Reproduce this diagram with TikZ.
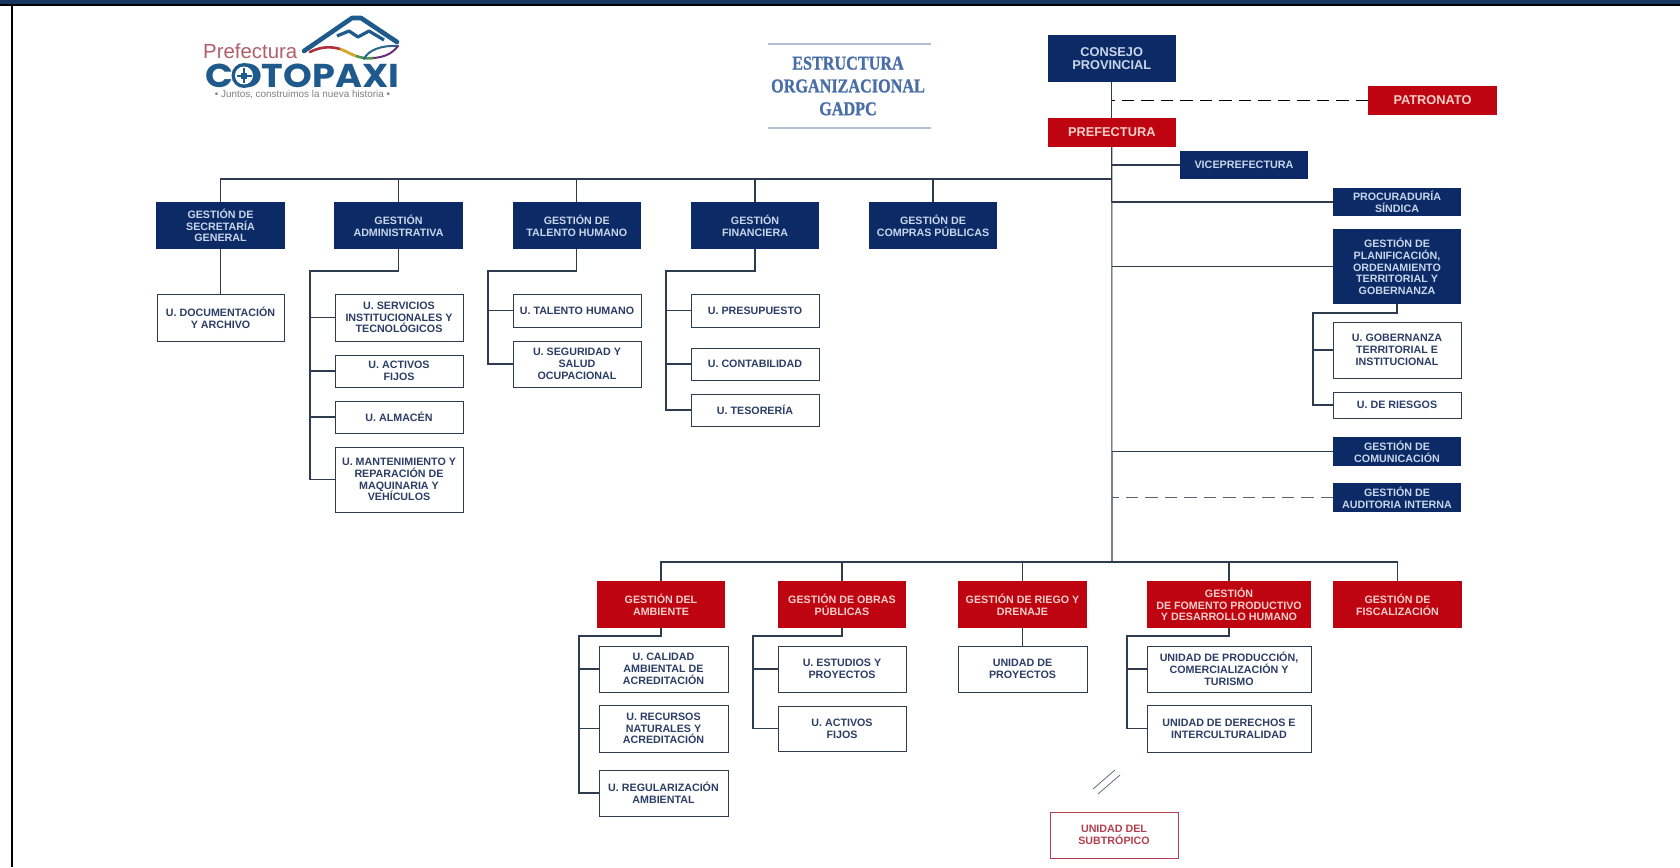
\documentclass[tikz,border=0pt]{standalone}
\usepackage{fontspec}
\setmainfont{Liberation Sans}
\newfontfamily\titlefont[BoldFeatures={FakeBold=1.2}]{Liberation Serif}
\newfontfamily\logofont{Poppins}
\definecolor{navy}{HTML}{0B2A66}
\definecolor{crimson}{HTML}{BF0411}
\definecolor{navytext}{HTML}{C9D6EA}
\definecolor{redtext}{HTML}{F6CFC8}
\definecolor{unittext}{HTML}{2C3E66}
\definecolor{linecol}{HTML}{2E3C50}
\definecolor{logoblue}{HTML}{1F5A8C}
\definecolor{logored}{HTML}{B0606A}
\definecolor{titleblue}{HTML}{4A6FA8}
\definecolor{rulecol}{HTML}{B4BFD3}
\definecolor{subred}{HTML}{B33F4C}
\definecolor{topbar}{HTML}{17375E}
\definecolor{waveR}{HTML}{B0303C}
\definecolor{waveY}{HTML}{D6A52B}
\definecolor{waveG}{HTML}{509646}
\definecolor{waveB}{HTML}{28648C}
\definecolor{waveP}{HTML}{6B2E7F}
\tikzset{
  x=1pt,y=-1pt,
  basebox/.style={inner sep=0pt,outer sep=0pt,align=center,line width=1pt,font=\bfseries\fontsize{10.7}{11.7}\selectfont},
  navybox/.style={basebox,fill=navy,text=navytext},
  redbox/.style={basebox,fill=crimson,text=redtext},
  unitbox/.style={basebox,fill=white,draw=linecol,text=unittext},
  subbox/.style={basebox,fill=white,draw=subred,text=subred},
  bigtext/.style={font=\bfseries\fontsize{12.8}{13.8}\selectfont},
  midtext/.style={font=\bfseries\fontsize{10.8}{11.7}\selectfont},
  conn/.style={draw=linecol,line width=1.1pt},
  dashconn/.style={draw=black,line width=1.3pt,dash pattern=on 12.5pt off 7pt},
  rulerline/.style={draw=rulecol,line width=1.4pt},
  titletext/.style={align=center,text=titleblue,xscale=.83,transform shape,inner sep=0pt,
    font=\titlefont\bfseries\fontsize{19.5}{22}\selectfont},
}
\newcommand{\bx}[7]{\node[#6,minimum width={(#4-#2)*1pt},minimum height={(#5-#3)*1pt}] (#1) at ({(#2+#4)/2},{(#3+#5)/2}) {#7};}
\begin{document}
\begin{tikzpicture}
\useasboundingbox (0,0) rectangle (1680,867);
\fill[white] (0,0) rectangle (1680,867);
% frame
\fill[black] (0,4) rectangle (1680,6);
\fill[topbar] (0,0) rectangle (1680,4);
\fill[black] (11,6) rectangle (13,867);
% logo
\begin{scope}
\draw[logoblue,line width=4.6pt,line join=round,line cap=round] (304,51) -- (352,18) -- (361,18) -- (397,42);
\draw[logoblue,line width=3.2pt,line join=round] (337,36) -- (349,31) -- (358,37) -- (369,31) -- (384,40);
\draw[waveR,line width=2.6pt,line cap=round] (310,52) .. controls (320,47) and (330,46) .. (340,49);
\draw[waveY,line width=2.8pt] (340,49) .. controls (346,51) and (350,54) .. (356,56);
\draw[waveG,line width=2.6pt] (356,56) .. controls (362,58) and (368,59) .. (374,58);
\draw[waveB,line width=2pt,line cap=round] (364,59) .. controls (368,50) and (382,45) .. (398,46);
\draw[waveP,line width=2pt,line cap=round] (374,58) .. controls (384,57) and (392,54) .. (398,46);
\node[inner sep=0pt,anchor=base west,text=logored,font=\fontsize{20.4}{22}\selectfont] (logoA) at (203,59) {Prefectura};
\node[inner sep=0pt,anchor=north west,text=logoblue] (logoB) at (205,63.5) {\resizebox{194pt}{23.5pt}{\logofont\bfseries COTOPAXI}};
\fill[logoblue] (244,75.5) circle (12.5);
\fill[white] (244,75.5) circle (9);
\fill[logoblue] (241,72.5) rectangle (247,78.5);
\fill[logoblue] (243,68) rectangle (245,83);
\fill[logoblue] (236.5,74.5) rectangle (251.5,76.5);
\node[inner sep=0pt,text=black!50,font=\fontsize{9.9}{11}\selectfont] (logoC) at (302.5,94.5) {• Juntos, construimos la nueva historia •};
\end{scope}
% title
\coordinate (titleTL) at (768,44);
\coordinate (titleTR) at (931,44);
\coordinate (titleBL) at (768,128);
\coordinate (titleBR) at (931,128);
\draw[rulerline] (titleTL) -- (titleTR);
\draw[rulerline] (titleBL) -- (titleBR);
\node[titletext] (title) at (848,86) {ESTRUCTURA\\[0.8pt]ORGANIZACIONAL\\[0.8pt]GADPC};
% top
\bx{consejo}{1047.5}{35}{1176}{82}{navybox,bigtext}{CONSEJO\\PROVINCIAL}
\bx{prefectura}{1047.5}{118}{1176}{147}{redbox,bigtext}{PREFECTURA}
\bx{patronato}{1368}{86}{1497}{115}{redbox,bigtext}{PATRONATO}
\bx{vice}{1180}{151}{1308}{179}{navybox,midtext}{VICEPREFECTURA}
% right column
\bx{procu}{1333}{188}{1461}{216}{navybox}{PROCURADURÍA\\SÍNDICA}
\bx{plani}{1333}{229}{1461}{304}{navybox}{GESTIÓN DE\\PLANIFICACIÓN,\\ORDENAMIENTO\\TERRITORIAL Y\\GOBERNANZA}
\bx{gober}{1333}{322}{1461}{378}{unitbox}{U. GOBERNANZA\\TERRITORIAL E\\INSTITUCIONAL}
\bx{riesgos}{1333}{392}{1461}{418}{unitbox}{U. DE RIESGOS}
\bx{comu}{1333}{437}{1461}{466}{navybox}{GESTIÓN DE\\COMUNICACIÓN}
\bx{audi}{1333}{483}{1461}{512}{navybox}{GESTIÓN DE\\AUDITORIA INTERNA}
% upper row
\bx{secre}{156}{202}{285}{249}{navybox}{GESTIÓN DE\\SECRETARÍA\\GENERAL}
\bx{admin}{334}{202}{463}{249}{navybox}{GESTIÓN\\ADMINISTRATIVA}
\bx{talento}{512.5}{202}{641}{249}{navybox}{GESTIÓN DE\\TALENTO HUMANO}
\bx{finan}{691}{202}{819}{249}{navybox}{GESTIÓN\\FINANCIERA}
\bx{compras}{869}{202}{997}{249}{navybox}{GESTIÓN DE\\COMPRAS PÚBLICAS}
\bx{docu}{157}{294}{284}{341}{unitbox}{U. DOCUMENTACIÓN\\Y ARCHIVO}
\bx{serv}{335}{294}{463}{341}{unitbox}{U. SERVICIOS\\INSTITUCIONALES Y\\TECNOLÓGICOS}
\bx{activosA}{335}{355}{463}{387}{unitbox}{U. ACTIVOS\\FIJOS}
\bx{almacen}{335}{401}{463}{433}{unitbox}{U. ALMACÉN}
\bx{mante}{335}{447}{463}{512}{unitbox}{U. MANTENIMIENTO Y\\REPARACIÓN DE\\MAQUINARIA Y\\VEHÍCULOS}
\bx{thum}{513}{294}{641}{327}{unitbox}{U. TALENTO HUMANO}
\bx{segu}{513}{341}{641}{387}{unitbox}{U. SEGURIDAD Y\\SALUD\\OCUPACIONAL}
\bx{presu}{691}{294}{819}{327}{unitbox}{U. PRESUPUESTO}
\bx{conta}{691}{348}{819}{380}{unitbox}{U. CONTABILIDAD}
\bx{teso}{691}{394}{819}{426}{unitbox}{U. TESORERÍA}
% lower row
\bx{ambi}{597}{581}{725}{628}{redbox}{GESTIÓN DEL\\AMBIENTE}
\bx{obras}{778}{581}{906}{628}{redbox}{GESTIÓN DE OBRAS\\PÚBLICAS}
\bx{riego}{958}{581}{1087}{628}{redbox}{GESTIÓN DE RIEGO Y\\DRENAJE}
\bx{fomento}{1147}{581}{1311}{628}{redbox}{GESTIÓN\\DE FOMENTO PRODUCTIVO\\Y DESARROLLO HUMANO}
\bx{fisca}{1333}{581}{1462}{628}{redbox}{GESTIÓN DE\\FISCALIZACIÓN}
\bx{cali}{599}{646}{728}{692}{unitbox}{U. CALIDAD\\AMBIENTAL DE\\ACREDITACIÓN}
\bx{recu}{599}{705}{728}{752}{unitbox}{U. RECURSOS\\NATURALES Y\\ACREDITACIÓN}
\bx{regu}{599}{770}{728}{816}{unitbox}{U. REGULARIZACIÓN\\AMBIENTAL}
\bx{estu}{778}{646}{906}{692}{unitbox}{U. ESTUDIOS Y\\PROYECTOS}
\bx{activosB}{778}{706}{906}{751}{unitbox}{U. ACTIVOS\\FIJOS}
\bx{proy}{958}{646}{1087}{692}{unitbox}{UNIDAD DE\\PROYECTOS}
\bx{produ}{1147}{646}{1311}{692}{unitbox}{UNIDAD DE PRODUCCIÓN,\\COMERCIALIZACIÓN Y\\TURISMO}
\bx{dere}{1147}{705}{1311}{752}{unitbox}{UNIDAD DE DERECHOS E\\INTERCULTURALIDAD}
\bx{subt}{1050}{812}{1178}{858}{subbox}{UNIDAD DEL\\SUBTRÓPICO}
% helper coordinates
\coordinate (upperHub) at (1112,179);
\coordinate (lowerHub) at (1112,562);
\coordinate (brAdmin) at (310,271);
\coordinate (brTalento) at (488,271);
\coordinate (brFinan) at (666,271);
\coordinate (brPlani) at (1313,313);
\coordinate (brAmbi) at (579,636);
\coordinate (brObras) at (753,636);
\coordinate (brFomento) at (1127,636);
% spine
\draw[conn] (consejo.south) -- (prefectura.north);
\draw[conn] (prefectura.south) -- (lowerHub);
\draw[dashconn] (patronato.west) -- (patronato.west -| consejo.south);
\draw[conn] (vice.west) -- (vice.west -| upperHub);
\draw[conn] (procu.west) -- (procu.west -| upperHub);
\draw[conn] (plani.west) -- (plani.west -| upperHub);
\draw[conn] (comu.west) -- (comu.west -| upperHub);
\draw[dashconn,draw=linecol!80] (audi.west) -- (audi.west -| upperHub);
% upper bus
\draw[conn] (upperHub) -| (secre.north);
\foreach \n in {admin,talento,finan,compras}{\draw[conn] (\n.north) -- (\n.north |- upperHub);}
\draw[conn] (secre.south) -- (docu.north);
\draw[conn] (admin.south) |- (brAdmin) |- (mante.west);
\foreach \n in {serv,activosA,almacen}{\draw[conn] (\n.west) -- (\n.west -| brAdmin);}
\draw[conn] (talento.south) |- (brTalento) |- (segu.west);
\draw[conn] (thum.west) -- (thum.west -| brTalento);
\draw[conn] (finan.south) |- (brFinan) |- (teso.west);
\foreach \n in {presu,conta}{\draw[conn] (\n.west) -- (\n.west -| brFinan);}
\draw[conn] (plani.south) |- (brPlani) |- (riesgos.west);
\draw[conn] (gober.west) -- (gober.west -| brPlani);
% lower bus
\draw[conn] (ambi.north) |- (lowerHub) -| (fisca.north);
\foreach \n in {obras,riego,fomento}{\draw[conn] (\n.north) -- (\n.north |- lowerHub);}
\draw[conn] (ambi.south) |- (brAmbi) |- (regu.west);
\foreach \n in {cali,recu}{\draw[conn] (\n.west) -- (\n.west -| brAmbi);}
\draw[conn] (obras.south) |- (brObras) |- (activosB.west);
\draw[conn] (estu.west) -- (estu.west -| brObras);
\draw[conn] (riego.south) -- (proy.north);
\draw[conn] (fomento.south) |- (brFomento) |- (dere.west);
\draw[conn] (produ.west) -- (produ.west -| brFomento);
% break mark
\draw[draw=linecol!75,line width=.8pt] (1093,789) -- (1115,770);
\draw[draw=linecol!75,line width=.8pt] (1098,794) -- (1120,775);
\end{tikzpicture}
\end{document}
